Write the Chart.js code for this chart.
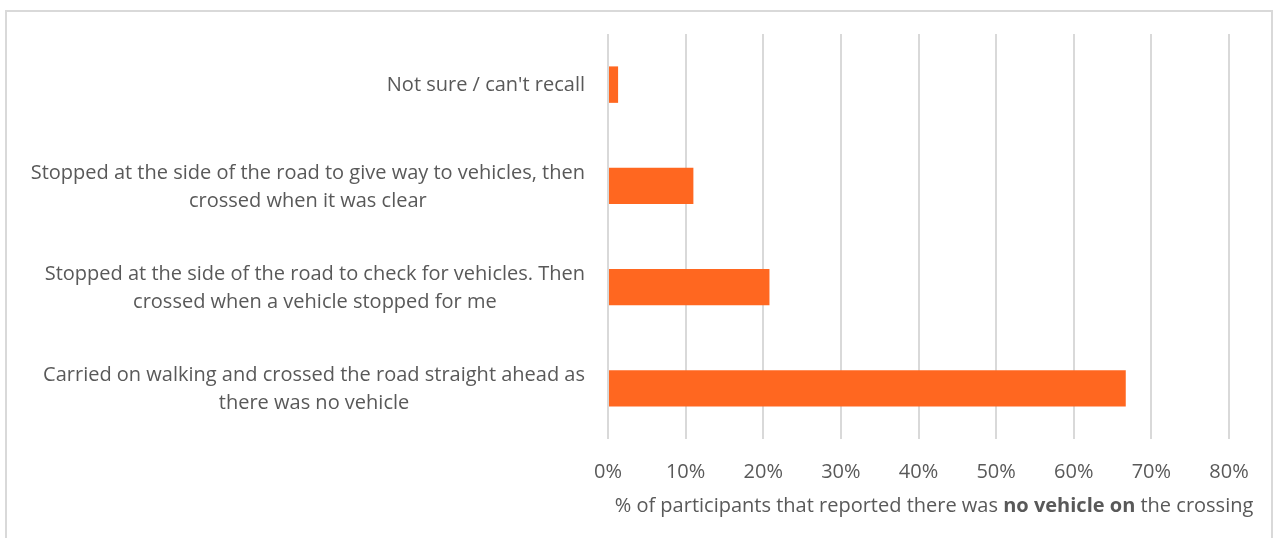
<!DOCTYPE html>
<html>
<head>
<meta charset="utf-8">
<script src="https://cdn.jsdelivr.net/npm/chart.js@4/dist/chart.umd.min.js"></script>
<style>
  html, body { margin: 0; padding: 0; background: #ffffff; }
  #wrap { width: 1274px; height: 538px; }
</style>
</head>
<body>
<div id="wrap"><canvas id="c" width="1274" height="538"></canvas></div>
<script>
// ---- data ----
const categories = [
  ["Not sure / can't recall"],
  ["Stopped at the side of the road to give way to vehicles, then", "crossed when it was clear"],
  ["Stopped at the side of the road to check for vehicles. Then", "crossed when a vehicle stopped for me"],
  ["Carried on walking and crossed the road straight ahead as", "there was no vehicle"]
];
const values = [1.3, 11.0, 20.8, 66.7];
const xMin = 0;
const xMax = 80;
const xStep = 10;
const titleParts = [
  { text: "% of participants that reported there was ", bold: false },
  { text: "no vehicle on", bold: true },
  { text: " the crossing", bold: false }
];

const FONT = "'Open Sans'";
const FSIZE = 20;
const TEXT = "#595959";

const framePlugin = {
  id: 'frame',
  beforeDraw(chart) {
    const ctx = chart.ctx;
    ctx.save();
    ctx.fillStyle = '#ffffff';
    ctx.fillRect(0, 0, chart.width, chart.height);
    ctx.strokeStyle = '#d9d9d9';
    ctx.lineWidth = 2;
    ctx.strokeRect(6, 11, 1266, 600);
    ctx.restore();
  }
};

const yLabelsPlugin = {
  id: 'yLabels',
  afterDraw(chart) {
    const ctx = chart.ctx;
    const ys = chart.scales.y;
    ctx.save();
    ctx.font = `${FSIZE}px ${FONT}`;
    ctx.fillStyle = TEXT;
    ctx.textBaseline = 'middle';
    ctx.textAlign = 'center';
    const rightX = 585;
    const lh = 28;
    chart.data.labels.forEach((lines, i) => {
      const arr = Array.isArray(lines) ? lines : [lines];
      const w = Math.max(...arr.map(t => ctx.measureText(t).width));
      const cx = rightX - w / 2;
      const cy = ys.getPixelForTick(i) + 1;
      const y0 = cy - (arr.length - 1) * lh / 2;
      arr.forEach((t, k) => ctx.fillText(t, cx, y0 + k * lh));
    });
    ctx.restore();
  }
};

const xTitlePlugin = {
  id: 'xTitle',
  afterDraw(chart) {
    const ctx = chart.ctx;
    ctx.save();
    ctx.fillStyle = TEXT;
    ctx.textBaseline = 'middle';
    ctx.textAlign = 'left';
    const widths = titleParts.map(p => {
      ctx.font = `${p.bold ? 'bold ' : ''}${FSIZE}px ${FONT}`;
      return ctx.measureText(p.text).width;
    });
    const total = widths.reduce((a, b) => a + b, 0);
    let x = 934 - total / 2;
    const y = 506;
    titleParts.forEach((p, i) => {
      ctx.font = `${p.bold ? 'bold ' : ''}${FSIZE}px ${FONT}`;
      ctx.fillText(p.text, x, y);
      x += widths[i];
    });
    ctx.restore();
  }
};

new Chart(document.getElementById('c'), {
  type: 'bar',
  data: {
    labels: categories,
    datasets: [{
      data: values,
      backgroundColor: '#ff6720',
      borderWidth: 0,
      barPercentage: 0.36,
      categoryPercentage: 1
    }]
  },
  options: {
    indexAxis: 'y',
    responsive: false,
    animation: false,
    devicePixelRatio: 1,
    layout: { padding: { top: 34, right: 45, left: 0, bottom: 0 } },
    plugins: { legend: { display: false }, tooltip: { enabled: false }, title: { display: false } },
    scales: {
      x: {
        min: xMin, max: xMax,
        ticks: {
          stepSize: xStep,
          callback: v => v + '%',
          color: TEXT,
          font: { family: "Open Sans", size: FSIZE },
          padding: 21,
          maxRotation: 0
        },
        grid: { color: '#d9d9d9', lineWidth: 2, drawTicks: false },
        border: { display: false },
        afterFit(s) { s.height = 99; }
      },
      y: {
        grid: { display: false },
        border: { display: false },
        ticks: { display: false },
        afterFit(s) { s.width = 608; }
      }
    }
  },
  plugins: [framePlugin, yLabelsPlugin, xTitlePlugin]
});
</script>
</body>
</html>
